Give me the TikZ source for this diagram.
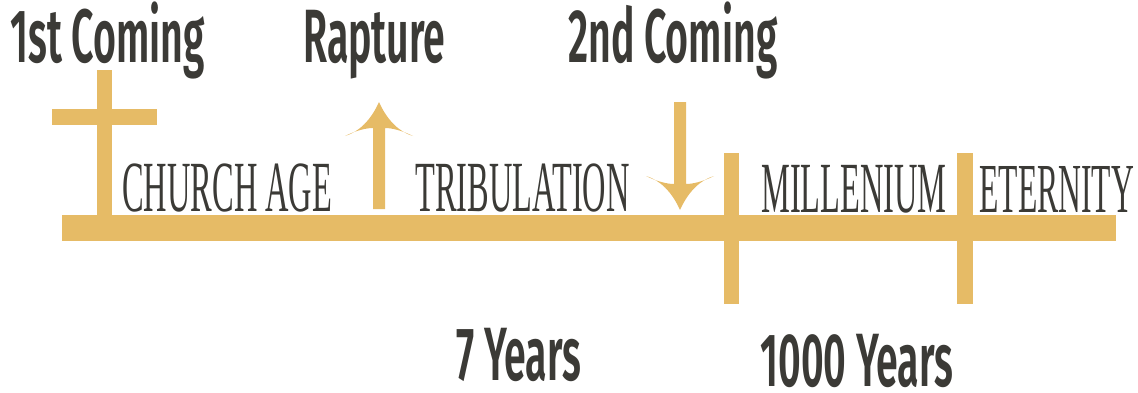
\documentclass[tikz,border=0pt]{standalone}
\usepackage{fontspec}
\usepackage{tikz}
\newfontfamily\headfont[FakeStretch=0.52]{Fira Sans SemiBold}
\newfontfamily\agefont[FakeStretch=0.45]{Liberation Serif}
\definecolor{gold}{HTML}{E6BB66}
\definecolor{ink}{HTML}{3B3A36}

\begin{document}
\begin{tikzpicture}[x=0.02cm,y=-0.02cm,
    bar/.style={fill=gold,draw=none},
    head/.style={inner sep=0,anchor=base west,text depth=0pt,text=ink,font=\headfont\fontsize{43}{43}\selectfont},
    age/.style={inner sep=0,anchor=base west,text=ink,font=\agefont\fontsize{41}{41}\selectfont}]
  \useasboundingbox (0,0) rectangle (1138,392);
  % time line and cross
  \fill[bar] (62,215) rectangle (1116,241);
  \fill[bar] (97,70) rectangle (112,215);
  \fill[bar] (52,109) rectangle (157,125);
  \fill[bar] (724,153) rectangle (739,304);
  \fill[bar] (957,153) rectangle (973,304);
  % rapture and 2nd coming arrows
  \begin{scope}[shift={(379,102)}]
    \fill[bar] (0,0) .. controls (-8,18) and (-20,30) .. (-34,34)
      .. controls (-22,28) and (-12,26) .. (-6,26) -- (-6,107) -- (6,107) -- (6,26)
      .. controls (12,26) and (22,28) .. (34,34) .. controls (20,30) and (8,18) .. cycle;
  \end{scope}
  \begin{scope}[shift={(680,210)},yscale=-1]
    \fill[bar] (0,0) .. controls (-8,18) and (-20,30) .. (-34,34)
      .. controls (-22,28) and (-12,26) .. (-6,26) -- (-6,108) -- (6,108) -- (6,26)
      .. controls (12,26) and (22,28) .. (34,34) .. controls (20,30) and (8,18) .. cycle;
  \end{scope}
  % labels
  \node[head] (first) at (10,62) {1st Coming};
  \node[head] (rapture) at (303,62) {Rapture};
  \node[head] (second) at (568,62) {2nd Coming};
  \node[head] (seven) at (456,380) {7 Years};
  \node[head] (thousand) at (760,386) {1000 Years};
  \node[age] (church) at (122,211) {CHURCH AGE};
  \node[age] (trib) at (415,211) {TRIBULATION};
  \node[age] (mill) at (761,212) {MILLENIUM};
  \node[age,font=\agefont\fontsize{40}{41}\selectfont] (eternity) at (979,212) {ETERNITY};
\end{tikzpicture}
\end{document}
